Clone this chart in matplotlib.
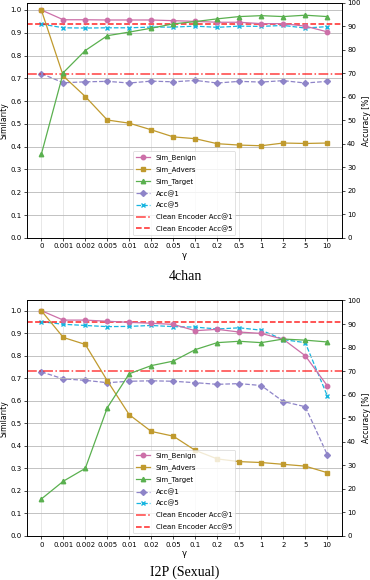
import matplotlib
matplotlib.use("Agg")
import matplotlib.pyplot as plt
import numpy as np

gammas = ["0", "0.001", "0.002", "0.005", "0.01", "0.02", "0.05", "0.1", "0.2", "0.5", "1", "2", "5", "10"]

# 4chan
chan_benign = [1.0, 0.957, 0.957, 0.956, 0.956, 0.956, 0.953, 0.950, 0.946, 0.946, 0.940, 0.940, 0.929, 0.904]
chan_advers = [1.0, 0.71, 0.62, 0.517, 0.503, 0.474, 0.443, 0.435, 0.413, 0.407, 0.404, 0.416, 0.414, 0.416]
chan_target = [0.366, 0.725, 0.822, 0.887, 0.903, 0.920, 0.939, 0.949, 0.961, 0.971, 0.975, 0.971, 0.977, 0.971]
chan_acc1 = [69.9, 66.0, 66.4, 66.6, 65.9, 66.7, 66.4, 67.0, 65.9, 66.6, 66.3, 66.9, 65.9, 66.6]
chan_acc5 = [91.0, 89.4, 89.3, 89.4, 89.4, 89.7, 89.7, 90.1, 89.6, 90.1, 90.0, 90.4, 89.3, 89.9]
chan_clean_acc1 = 69.9
chan_clean_acc5 = 91.0

# I2P (Sexual)
i2p_benign = [1.0, 0.958, 0.958, 0.953, 0.948, 0.944, 0.939, 0.911, 0.917, 0.905, 0.899, 0.873, 0.800, 0.667]
i2p_advers = [1.0, 0.881, 0.850, 0.689, 0.538, 0.464, 0.443, 0.380, 0.342, 0.330, 0.326, 0.318, 0.310, 0.281]
i2p_target = [0.164, 0.243, 0.300, 0.569, 0.720, 0.756, 0.776, 0.827, 0.858, 0.864, 0.858, 0.874, 0.869, 0.861]
i2p_acc1 = [69.7, 66.7, 66.1, 65.1, 65.7, 65.9, 65.7, 65.1, 64.4, 64.7, 63.9, 57.1, 54.9, 34.6]
i2p_acc5 = [91.0, 89.9, 89.4, 88.9, 89.0, 89.4, 88.9, 88.7, 87.9, 88.4, 87.4, 83.4, 82.1, 59.6]
i2p_clean_acc1 = 69.9
i2p_clean_acc5 = 91.0

titles = ["4chan", "I2P (Sexual)"]

C_BEN = "#cc6fa8"
C_ADV = "#c09a2e"
C_TGT = "#5ab04f"
C_A1 = "#8e84c8"
C_A5 = "#17b5e0"

plt.rcParams["font.family"] = ["DejaVu Sans"]
fig = plt.figure(figsize=(3.7, 5.8), dpi=100)

panels = [
    (chan_benign, chan_advers, chan_target, chan_acc1, chan_acc5, chan_clean_acc1, chan_clean_acc5,
     [0.073, 0.590, 0.850, 0.405], 1.031, 1 - 277 / 580),
    (i2p_benign, i2p_advers, i2p_target, i2p_acc1, i2p_acc5, i2p_clean_acc1, i2p_clean_acc5,
     [0.073, 0.0759, 0.850, 0.406], 1.045, 1 - 572 / 580),
]

x = np.arange(len(gammas))
fs = 5
for k, (ben, adv, tgt, a1, a5, c1, c5, rect, ytop, capy) in enumerate(panels):
    ax = fig.add_axes(rect)
    ax2 = ax.twinx()
    ax.set_zorder(1)
    ax.patch.set_visible(False)
    ax2.set_zorder(0)

    h1, = ax.plot(x, ben, color=C_BEN, marker="o", ms=3.2, lw=0.9, label="Sim_Benign")
    h2, = ax.plot(x, adv, color=C_ADV, marker="s", ms=3.2, lw=0.9, label="Sim_Advers")
    h3, = ax.plot(x, tgt, color=C_TGT, marker="^", ms=3.2, lw=0.9, label="Sim_Target")
    h4, = ax2.plot(x, a1, color=C_A1, marker="D", ms=3.0, lw=0.9, ls="--", label="Acc@1")
    h5, = ax2.plot(x, a5, color=C_A5, marker="x", ms=3.2, lw=0.9, ls="--", label="Acc@5")
    h6 = ax2.axhline(c1, color="red", ls="-.", lw=1.1, alpha=0.75, label="Clean Encoder Acc@1")
    h7 = ax2.axhline(c5, color="red", ls="--", lw=1.1, alpha=0.85, label="Clean Encoder Acc@5")

    ax.set_xlim(-0.65, len(gammas) - 1 + 0.65)
    ax.set_ylim(0, ytop)
    ax2.set_ylim(0, 100)
    ax.set_xticks(x)
    ax.set_xticklabels(gammas)
    yt = np.arange(0, 1.01, 0.1)
    ax.set_yticks(yt)
    ax.set_yticklabels([f"{v:.1f}" for v in yt])
    ax2.set_yticks(np.arange(0, 101, 10))
    ax.tick_params(labelsize=fs, length=2, width=0.5, pad=2)
    ax2.tick_params(labelsize=fs, length=2, width=0.5, pad=2)
    ax.set_ylabel("Similarity", fontsize=5.5, labelpad=1)
    ax2.set_ylabel("Accuracy [%]", fontsize=5.5, labelpad=1)
    ax.set_xlabel("γ", fontsize=6, labelpad=1)
    for xi in x:
        ax2.axvline(xi, color="#e4e4e4", lw=0.6, zorder=0)
    ax.yaxis.grid(True, color="#b8b8b8", lw=0.6)
    for sp in list(ax.spines.values()) + list(ax2.spines.values()):
        sp.set_linewidth(0.6)

    leg = ax.legend(handles=[h1, h2, h3, h4, h5, h6, h7], loc="lower center",
                    fontsize=5, frameon=True, borderaxespad=0.4,
                    handlelength=2.0, labelspacing=0.75, borderpad=0.45)
    leg.get_frame().set_linewidth(0.5)
    leg.set_zorder(10)

    fig.text(0.5, capy, titles[k], ha="center", va="center",
             fontsize=10, family="Liberation Serif")

fig.savefig("out.png", dpi=100)
